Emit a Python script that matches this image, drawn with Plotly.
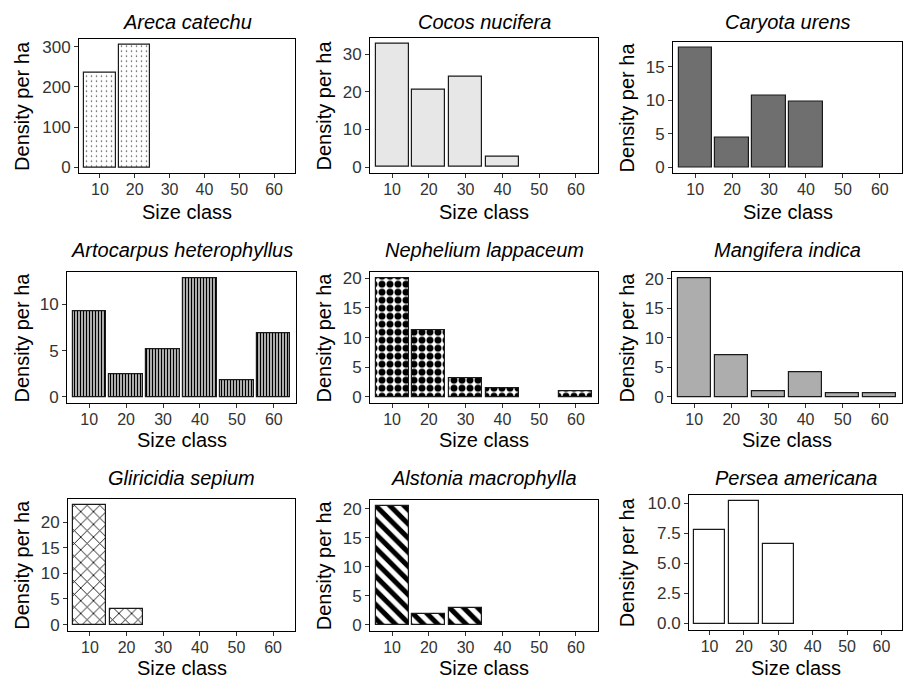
import plotly.graph_objects as go

# ---------------- data ----------------
size_classes = ["10", "20", "30", "40", "50", "60"]

species_names = [
    "Areca catechu", "Cocos nucifera", "Caryota urens",
    "Artocarpus heterophyllus", "Nephelium lappaceum", "Mangifera indica",
    "Gliricidia sepium", "Alstonia macrophylla", "Persea americana",
]

areca_catechu = [235, 305, None, None, None, None]
cocos_nucifera = [32.8, 20.6, 24.0, 2.7, None, None]
caryota_urens = [17.9, 4.4, 10.7, 9.8, None, None]
artocarpus_heterophyllus = [9.2, 2.4, 5.1, 12.8, 1.75, 6.9]
nephelium_lappaceum = [20.0, 11.3, 3.2, 1.5, None, 1.0]
mangifera_indica = [20.1, 7.1, 1.0, 4.2, 0.7, 0.7]
gliricidia_sepium = [23.4, 3.0, None, None, None, None]
alstonia_macrophylla = [20.5, 1.9, 2.8, None, None, None]
persea_americana = [7.8, 10.2, 6.6, None, None, None]

y_dticks = [100, 10, 5, 5, 5, 5, 5, 5, 2.5]

# ---------------- styling ----------------
series = [areca_catechu, cocos_nucifera, caryota_urens,
          artocarpus_heterophyllus, nephelium_lappaceum, mangifera_indica,
          gliricidia_sepium, alstonia_macrophylla, persea_americana]

styles = [
    dict(color="white", pattern=dict(shape=".", fgcolor="#444444", bgcolor="white", size=5, solidity=0.07, fgopacity=1)),
    dict(color="#e6e7e6"),
    dict(color="#6f6f6f"),
    dict(color="white", pattern=dict(shape="|", fgcolor="#000000", bgcolor="white", size=3, solidity=0.55, fgopacity=1)),
    dict(color="white", pattern=dict(shape=".", fgcolor="#000000", bgcolor="white", size=8, solidity=0.6, fgopacity=1)),
    dict(color="#adadad"),
    dict(color="white", pattern=dict(shape="x", fgcolor="#000000", bgcolor="white", size=9, solidity=0.18, fgopacity=1)),
    dict(color="white", pattern=dict(shape="\\", fgcolor="#000000", bgcolor="white", size=10, solidity=0.5, fgopacity=1)),
    dict(color="white"),
]

# plot areas in pixels (left, right, top, bottom)
W, H = 903, 687
boxes = [
    (79, 295, 36, 172), (370, 598, 35, 172), (673, 902, 39, 172),
    (67, 296, 272, 404), (370, 598, 272, 404), (672, 902, 272, 404),
    (68, 295, 501, 634), (370, 598, 502, 634), (689, 902, 497, 633),
]
title_y = [19, 19, 19, 250, 250, 250, 480, 480, 480]
xtitle_y = [211, 211, 211, 441, 441, 441, 672, 672, 672]
ytitle_x = [22, 324, 627, 22, 324, 627, 22, 324, 627]

FONT = "Liberation Sans, Arial, sans-serif"

fig = go.Figure()
annotations = []
for i, (name, vals, st, box) in enumerate(zip(species_names, series, styles, boxes)):
    n = "" if i == 0 else str(i + 1)
    l, r, t, b = box
    xd = [l / W, r / W]
    yd = [1 - b / H, 1 - t / H]
    fig.add_trace(go.Bar(
        x=size_classes, y=vals, width=0.9,
        marker=dict(line=dict(color="#1a1a1a", width=1.2), **st),
        xaxis="x" + n, yaxis="y" + n, showlegend=False, hoverinfo="x+y",
    ))
    vmax = max(v for v in vals if v is not None)
    axis_common = dict(showline=True, linecolor="black", linewidth=1, mirror=True,
                       ticks="outside", ticklen=4, tickcolor="#333333", tickwidth=1,
                       showgrid=False, zeroline=False)
    fig.update_layout(**{
        "xaxis" + n: dict(domain=xd, anchor="y" + n, type="category",
                          categoryorder="array", categoryarray=size_classes,
                          range=[-0.6, 5.6], ticklabelstandoff=-2,
                          tickfont=dict(family=FONT, size=16, color="#333333"), **axis_common),
        "yaxis" + n: dict(domain=yd, anchor="x" + n,
                          range=[-0.05 * vmax, 1.05 * vmax], dtick=y_dticks[i], tick0=0,
                          tickformat=".1f" if i == 8 else None,
                          tickfont=dict(family=FONT, size=17, color="#333333"), **axis_common),
    })
    cx = (xd[0] + xd[1]) / 2
    annotations.append(dict(text="<i>" + name + "</i>", x=cx, y=1 - title_y[i] / H,
                            xref="paper", yref="paper", xanchor="center", yanchor="middle",
                            showarrow=False, font=dict(family=FONT, size=20, color="black")))
    annotations.append(dict(text="Size class", x=cx, y=1 - xtitle_y[i] / H,
                            xref="paper", yref="paper", xanchor="center", yanchor="middle",
                            showarrow=False, borderpad=0,
                            font=dict(family=FONT, size=20, color="black")))
    annotations.append(dict(text="Density per ha", x=ytitle_x[i] / W, y=(yd[0] + yd[1]) / 2,
                            xref="paper", yref="paper", xanchor="center", yanchor="middle",
                            textangle=-90, showarrow=False,
                            font=dict(family=FONT, size=20, color="black")))

fig.update_layout(
    width=W, height=H, margin=dict(l=0, r=0, t=0, b=0),
    paper_bgcolor="white", plot_bgcolor="white",
    annotations=annotations, bargap=0,
)

fig.write_html("out.html", config={"displayModeBar": False},
               post_script="document.body.style.margin='0';document.body.style.padding='0';")
